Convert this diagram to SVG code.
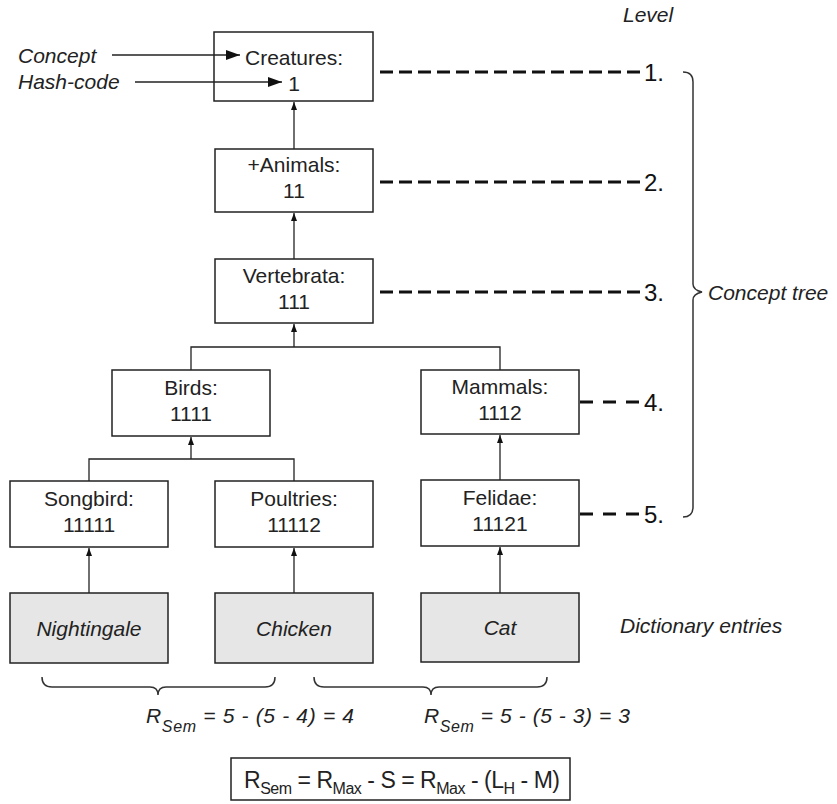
<svg xmlns="http://www.w3.org/2000/svg" width="837" height="804" viewBox="0 0 837 804">
<defs>
<marker id="sa" viewBox="0 0 8 6" refX="8" refY="3" markerWidth="8" markerHeight="6" markerUnits="userSpaceOnUse" orient="auto"><path d="M0,0 L8,3 L0,6 z" fill="#111"/></marker>
<marker id="ba" viewBox="0 0 14 10" refX="14" refY="5" markerWidth="14" markerHeight="10" markerUnits="userSpaceOnUse" orient="auto"><path d="M0,0 L14,5 L0,10 z" fill="#111"/></marker>
<style>
.box{fill:#fff;stroke:#222;stroke-width:1.5}
.entry{fill:#e6e6e6;stroke:#222;stroke-width:1.5}
.t{font-family:"Liberation Sans",Arial,sans-serif;font-size:21px;fill:#222;text-anchor:middle}
.ti{font-family:"Liberation Sans",Arial,sans-serif;font-size:21px;fill:#222;text-anchor:middle;font-style:italic}
.it{font-family:"Liberation Sans",Arial,sans-serif;font-size:21px;fill:#222;font-style:italic}
.f{font-family:"Liberation Sans",Arial,sans-serif;font-size:23px;fill:#222}
.lvl{font-family:"Liberation Sans",Arial,sans-serif;font-size:24px;fill:#111}
.c{fill:none;stroke:#222;stroke-width:1.3}
.d{fill:none;stroke:#111;stroke-width:3;stroke-dasharray:13 6}
.d2{fill:none;stroke:#111;stroke-width:3;stroke-dasharray:13 10}
.br{fill:none;stroke:#333;stroke-width:1.5}
</style>
</defs>
<rect width="837" height="804" fill="#fff"/>

<g id="n-creatures"><rect class="box" x="214" y="32" width="159" height="69"/><text class="t" x="294" y="65">Creatures:</text><text class="t" x="294" y="91">1</text></g>
<g id="n-animals"><rect class="box" x="215" y="149" width="158" height="63"/><text class="t" x="294" y="172">+Animals:</text><text class="t" x="294" y="198">11</text></g>
<g id="n-vertebrata"><rect class="box" x="215" y="259" width="158" height="64"/><text class="t" x="294" y="283">Vertebrata:</text><text class="t" x="294" y="309">111</text></g>
<g id="n-birds"><rect class="box" x="112" y="370" width="158" height="66"/><text class="t" x="191" y="395">Birds:</text><text class="t" x="191" y="421">1111</text></g>
<g id="n-mammals"><rect class="box" x="421" y="370" width="158" height="64"/><text class="t" x="500" y="394">Mammals:</text><text class="t" x="500" y="420">1112</text></g>
<g id="n-songbird"><rect class="box" x="10" y="481" width="158" height="66"/><text class="t" x="89" y="506">Songbird:</text><text class="t" x="89" y="532">11111</text></g>
<g id="n-poultries"><rect class="box" x="215" y="481" width="158" height="66"/><text class="t" x="294" y="506">Poultries:</text><text class="t" x="294" y="532">11112</text></g>
<g id="n-felidae"><rect class="box" x="421" y="480" width="158" height="66"/><text class="t" x="500" y="505">Felidae:</text><text class="t" x="500" y="531">11121</text></g>
<g id="n-nightingale"><rect class="entry" x="10" y="593" width="158" height="70"/><text class="ti" x="89" y="636">Nightingale</text></g>
<g id="n-chicken"><rect class="entry" x="215" y="593" width="158" height="70"/><text class="ti" x="294" y="636">Chicken</text></g>
<g id="n-cat"><rect class="entry" x="421" y="593" width="158" height="69"/><text class="ti" x="500" y="635">Cat</text></g>

<g id="connectors">
<line class="c" x1="294" y1="149" x2="294" y2="102" marker-end="url(#sa)"/>
<line class="c" x1="294" y1="259" x2="294" y2="213" marker-end="url(#sa)"/>
<polyline class="c" points="191,370 191,347 500,347 500,370"/>
<line class="c" x1="294" y1="347" x2="294" y2="324" marker-end="url(#sa)"/>
<polyline class="c" points="89,481 89,459 294,459 294,481"/>
<line class="c" x1="191" y1="459" x2="191" y2="437" marker-end="url(#sa)"/>
<line class="c" x1="500" y1="480" x2="500" y2="435" marker-end="url(#sa)"/>
<line class="c" x1="89" y1="593" x2="89" y2="548" marker-end="url(#sa)"/>
<line class="c" x1="294" y1="593" x2="294" y2="548" marker-end="url(#sa)"/>
<line class="c" x1="500" y1="593" x2="500" y2="547" marker-end="url(#sa)"/>
<line class="c" x1="112" y1="55" x2="240" y2="55" marker-end="url(#ba)"/>
<line class="c" x1="135" y1="82" x2="282" y2="82" marker-end="url(#ba)"/>
<line class="d" x1="380" y1="72" x2="640" y2="72"/>
<line class="d" x1="380" y1="182" x2="640" y2="182"/>
<line class="d" x1="380" y1="292" x2="640" y2="292"/>
<line class="d2" x1="580" y1="402" x2="641" y2="402"/>
<line class="d2" x1="580" y1="514" x2="641" y2="514"/>
</g>

<g id="labels">
<text class="it" x="18" y="63">Concept</text>
<text class="it" x="18" y="89">Hash-code</text>
<text class="it" x="623" y="22">Level</text>
<text class="lvl" x="644" y="81">1.</text>
<text class="lvl" x="644" y="191">2.</text>
<text class="lvl" x="644" y="301">3.</text>
<text class="lvl" x="644" y="411">4.</text>
<text class="lvl" x="644" y="523">5.</text>
<path class="br" d="M683,72 Q693,72 693,82 L693,284 Q693,290 702,292 Q693,294 693,300 L693,507 Q693,517 683,517"/>
<text class="it" x="708" y="300">Concept tree</text>
<text class="it" x="620" y="633" font-size="22">Dictionary entries</text>
</g>

<g id="formulas">
<path class="br" d="M42,677 Q42,687 52,687 L150,687 Q158,687 158,695 Q158,687 166,687 L265,687 Q275,687 275,677"/>
<path class="br" d="M314,677 Q314,687 324,687 L423,687 Q431,687 431,695 Q431,687 439,687 L537,687 Q547,687 547,677"/>
<text class="it" x="146" y="723" font-size="23" textLength="208" lengthAdjust="spacing">R<tspan font-size="16" dy="9">Sem</tspan><tspan dy="-9"> = 5 - (5 - 4) = 4</tspan></text>
<text class="it" x="424" y="723" font-size="23" textLength="206" lengthAdjust="spacing">R<tspan font-size="16" dy="9">Sem</tspan><tspan dy="-9"> = 5 - (5 - 3) = 3</tspan></text>
<rect class="box" x="231" y="758" width="339" height="42"/>
<text class="f" x="244" y="788" textLength="316" lengthAdjust="spacing">R<tspan font-size="16" dy="6">Sem</tspan><tspan dy="-6"> = R</tspan><tspan font-size="16" dy="6">Max</tspan><tspan dy="-6"> - S = R</tspan><tspan font-size="16" dy="6">Max</tspan><tspan dy="-6"> - (L</tspan><tspan font-size="16" dy="6">H</tspan><tspan dy="-6"> - M)</tspan></text>
</g>
</svg>
